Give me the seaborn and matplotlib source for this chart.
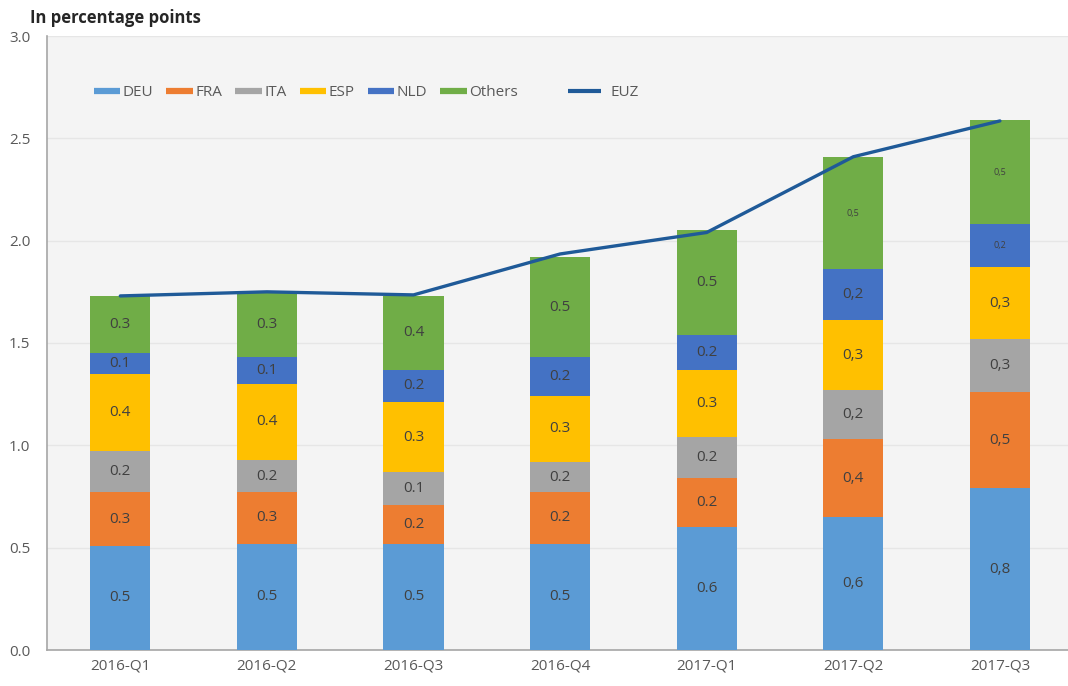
import numpy as np
import pandas as pd
import matplotlib
matplotlib.use("Agg")
import matplotlib.pyplot as plt
from matplotlib.lines import Line2D
import seaborn as sns

quarters = ["2016-Q1", "2016-Q2", "2016-Q3", "2016-Q4", "2017-Q1", "2017-Q2", "2017-Q3"]
series = ["DEU", "FRA", "ITA", "ESP", "NLD", "Others"]
deu = [0.51, 0.52, 0.52, 0.52, 0.60, 0.65, 0.79]
fra = [0.26, 0.25, 0.19, 0.25, 0.24, 0.38, 0.47]
ita = [0.20, 0.16, 0.16, 0.15, 0.20, 0.24, 0.26]
esp = [0.38, 0.37, 0.34, 0.32, 0.33, 0.34, 0.35]
nld = [0.10, 0.13, 0.16, 0.19, 0.17, 0.25, 0.21]
others = [0.28, 0.32, 0.36, 0.49, 0.51, 0.55, 0.51]
euz = [1.73, 1.75, 1.735, 1.935, 2.04, 2.41, 2.585]

lab_deu = ["0.5", "0.5", "0.5", "0.5", "0.6", "0,6", "0,8"]
lab_fra = ["0.3", "0.3", "0.2", "0.2", "0.2", "0,4", "0,5"]
lab_ita = ["0.2", "0.2", "0.1", "0.2", "0.2", "0,2", "0,3"]
lab_esp = ["0.4", "0.4", "0.3", "0.3", "0.3", "0,3", "0,3"]
lab_nld = ["0.1", "0.1", "0.2", "0.2", "0.2", "0,2", "0,2"]
lab_oth = ["0.3", "0.3", "0.4", "0.5", "0.5", "0,5", "0,5"]

colors = {"DEU": "#5b9bd5", "FRA": "#ed7d31", "ITA": "#a5a5a5",
          "ESP": "#ffc000", "NLD": "#4472c4", "Others": "#70ad47"}
euz_color = "#1f5a98"

sns.set_style("white")
plt.rcParams["font.family"] = ["Open Sans", "DejaVu Sans"]

values = [deu, fra, ita, esp, nld, others]
labels = [lab_deu, lab_fra, lab_ita, lab_esp, lab_nld, lab_oth]
cum = np.cumsum(np.array(values), axis=0)

W, H = 1068, 686
fig = plt.figure(figsize=(W / 100, H / 100), dpi=100)
fig.patch.set_facecolor("white")
ax = fig.add_axes([47 / W, (H - 650) / H, (W - 47) / W, (650 - 36) / H])
ax.set_facecolor("#f4f4f4")

# stacked bars drawn as overlaid cumulative totals (tallest first)
for i in range(len(series) - 1, -1, -1):
    df = pd.DataFrame({"quarter": quarters, "value": cum[i]})
    sns.barplot(data=df, x="quarter", y="value", color=colors[series[i]],
                saturation=1, width=0.41, ax=ax, zorder=3, linewidth=0)

# segment labels
small = {(5, 5), (6, 5), (6, 4)}
for i in range(len(series)):
    for j in range(len(quarters)):
        bottom = cum[i - 1][j] if i > 0 else 0
        mid = bottom + values[i][j] / 2
        fs = 6.5 if (j, i) in small else 11
        ax.text(j, mid, labels[i][j], ha="center", va="center",
                fontsize=fs, color="#404040", zorder=5)

# EUZ line
dfl = pd.DataFrame({"x": np.arange(len(quarters)), "euz": euz})
sns.lineplot(data=dfl, x="x", y="euz", color=euz_color, linewidth=2.4,
             ax=ax, zorder=6)

ax.set_xlim(-0.5, -0.5 + (W - 47) / 146.6)
ax.set_ylim(0, 3.0)
ax.set_yticks(np.arange(0, 3.01, 0.5))
ax.set_yticklabels([f"{v:.1f}" for v in np.arange(0, 3.01, 0.5)])
ax.set_xticks(range(len(quarters)))
ax.set_xticklabels(quarters)
ax.set_xlabel("")
ax.set_ylabel("")
ax.grid(axis="y", color="#e6e6e6", linewidth=1, zorder=0)
ax.set_axisbelow(True)
ax.tick_params(axis="x", which="major", length=0, labelsize=11,
               labelcolor="#595959", pad=6)
ax.tick_params(axis="y", length=0, labelsize=11, labelcolor="#595959", pad=12)
ax.set_xticks(np.arange(0.5, len(quarters) - 0.5, 1), minor=True)
ax.tick_params(axis="x", which="minor", length=4, color="#a0a0a0", width=1)
for s in ["top", "right"]:
    ax.spines[s].set_visible(False)
for s in ["left", "bottom"]:
    ax.spines[s].set_color("#a6a6a6")
    ax.spines[s].set_linewidth(1.2)

fig.text(30 / W, 1 - 18 / H, "In percentage points", fontsize=12,
         fontweight="bold", color="#262626", va="center", ha="left")

handles = [Line2D([0], [0], color=colors[s], linewidth=4.5,
                  solid_capstyle="butt") for s in series]
leg1 = ax.legend(handles, series, loc="center left",
                 bbox_to_anchor=(33 / (W - 47), (650 - 93) / (650 - 36)),
                 ncol=6, frameon=False, fontsize=11, handlelength=1.75,
                 handletextpad=0.15, columnspacing=0.85, labelcolor="#595959")
ax.add_artist(leg1)
ax.legend([Line2D([0], [0], color=euz_color, linewidth=3,
                  solid_capstyle="butt")], ["EUZ"],
          loc="center left",
          bbox_to_anchor=(507 / (W - 47), (650 - 93) / (650 - 36)),
          frameon=False, fontsize=11, handlelength=2.2, handletextpad=0.6,
          labelcolor="#595959")

fig.savefig("out.png", dpi=100)
